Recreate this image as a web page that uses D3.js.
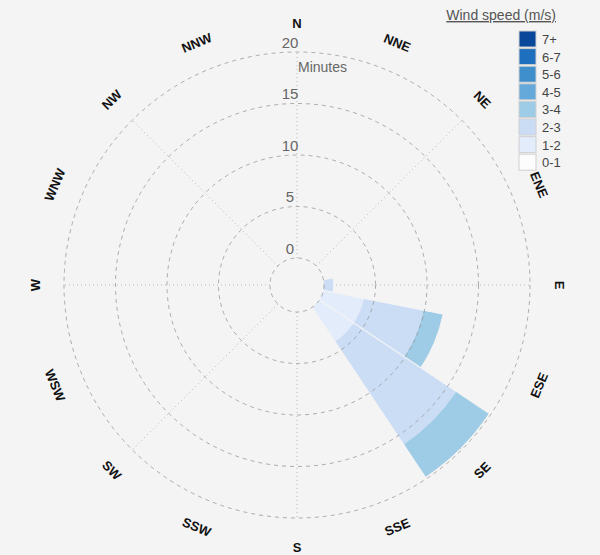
<!DOCTYPE html>
<html>
<head>
<meta charset="utf-8">
<script src="https://cdn.jsdelivr.net/npm/d3@7"></script>
<style>
  body { margin: 0; background: #f4f4f4; }
  svg { display: block; font-family: "Liberation Sans", Arial, sans-serif; }
</style>
</head>
<body>
<svg id="chart" width="600" height="555"></svg>
<script>
//-----------------------------------------------------------------------
// data: minutes of wind per direction, one array per speed bin
var directions = ["N","NNE","NE","ENE","E","ESE","SE","SSE","S","SSW","SW","WSW","W","WNW","NW","NNW"];
var speedBins  = ["0-1","1-2","2-3","3-4","4-5","5-6","6-7","7+"];

var min_0_1 = [0,0,0,0,0,0,0,0,0,0,0,0,0,0,0,0];
var min_1_2 = [0,0,0,0,0,4,4,0,0,0,0,0,0,0,0,0];
var min_2_3 = [0,0,0,0,0.9,5.9,12,0,0,0,0,0,0,0,0,0];
var min_3_4 = [0,0,0,0,0,1.9,3.8,0,0,0,0,0,0,0,0,0];
var min_4_5 = [0,0,0,0,0,0,0,0,0,0,0,0,0,0,0,0];
var min_5_6 = [0,0,0,0,0,0,0,0,0,0,0,0,0,0,0,0];
var min_6_7 = [0,0,0,0,0,0,0,0,0,0,0,0,0,0,0,0];
var min_7p  = [0,0,0,0,0,0,0,0,0,0,0,0,0,0,0,0];

var ringTicks = [0,5,10,15,20];
//-----------------------------------------------------------------------
var binSeries = [min_0_1,min_1_2,min_2_3,min_3_4,min_4_5,min_5_6,min_6_7,min_7p];
var binColors = ["#fcfcfc","#e2ecfb","#cbdcf5","#9ecbe5","#64a9da","#3e8fcb","#1f6fbf","#08479a"];

var cx = 297, cy = 285;
var svg = d3.select("#chart");
var g = svg.append("g").attr("transform","translate("+cx+","+cy+")");

var r = d3.scaleLinear().domain([0,20]).range([27,233]);
var step = 2*Math.PI/directions.length;
var ang = d3.scaleBand().domain(directions).range([-step/2, 2*Math.PI-step/2]);
var color = d3.scaleOrdinal().domain(speedBins).range(binColors);

// rows for the stack
var rows = directions.map(function(d,i){
	var o = {dir:d};
	speedBins.forEach(function(b,j){ o[b] = binSeries[j][i]; });
	return o;
});
var stacked = d3.stack().keys(speedBins)(rows);

// radial dotted spokes every 45 degrees
var spokes = directions.filter(function(d,i){ return i%2==0; });
g.selectAll("line.spoke")
	.data(spokes)
	.enter()
		.append("line")
		.attr("class","spoke")
		.attr("x1",function(d){ return r(0)*Math.sin(ang(d)+step/2); })
		.attr("y1",function(d){ return -r(0)*Math.cos(ang(d)+step/2); })
		.attr("x2",function(d){ return r(20)*Math.sin(ang(d)+step/2); })
		.attr("y2",function(d){ return -r(20)*Math.cos(ang(d)+step/2); })
		.attr("stroke","#b8b8b8")
		.attr("stroke-dasharray","1,3");

// bars
var arc = d3.arc()
	.innerRadius(function(d){ return r(d[0]); })
	.outerRadius(function(d){ return r(d[1]); })
	.startAngle(function(d){ return ang(d.data.dir); })
	.endAngle(function(d){ return ang(d.data.dir)+ang.bandwidth(); })
	.padAngle(0.012)
	.padRadius(100);

g.selectAll("g.layer")
	.data(stacked)
	.enter()
		.append("g")
		.attr("class","layer")
		.attr("fill",function(d){ return color(d.key); })
		.selectAll("path")
		.data(function(d){ return d.filter(function(s){ return s[1]-s[0]>0; }); })
		.enter()
			.append("path")
			.attr("d",arc);

// dashed rings
g.selectAll("circle.ring")
	.data(ringTicks)
	.enter()
		.append("circle")
		.attr("class","ring")
		.attr("r",function(d){ return r(d); })
		.attr("fill","none")
		.attr("stroke","#9a9a9a")
		.attr("stroke-opacity",0.8)
		.attr("stroke-dasharray","4,4");

// ring labels
g.selectAll("text.tick")
	.data(ringTicks)
	.enter()
		.append("text")
		.attr("class","tick")
		.attr("x",-7)
		.attr("y",function(d){ return -r(d)-10; })
		.attr("text-anchor","middle")
		.attr("dominant-baseline","central")
		.attr("fill","#666")
		.style("font-size","15px")
		.text(function(d){ return d; });

g.append("text")
	.attr("x",1)
	.attr("y",-218)
	.attr("dominant-baseline","central")
	.attr("fill","#666")
	.style("font-size","14px")
	.text("Minutes");

// compass labels
g.selectAll("text.dir")
	.data(directions)
	.enter()
		.append("text")
		.attr("class","dir")
		.attr("transform",function(d){
			var a = ang(d)+step/2, deg = a*180/Math.PI;
			var rot = (deg>90 && deg<270) ? deg-180 : deg;
			return "translate("+(262*Math.sin(a))+","+(-262*Math.cos(a))+") rotate("+rot+")";
		})
		.attr("text-anchor","middle")
		.attr("dominant-baseline","central")
		.attr("fill","#111")
		.style("font-size","13px")
		.style("font-weight","bold")
		.text(function(d){ return d; });

// legend
var leg = svg.append("g").attr("transform","translate(519,31)");
leg.append("text")
	.attr("x",37)
	.attr("y",-11)
	.attr("text-anchor","end")
	.attr("fill","#555")
	.style("font-size","14px")
	.style("text-decoration","underline")
	.text("Wind speed (m/s)");

var items = leg.selectAll("g.item")
	.data(speedBins.slice().reverse())
	.enter()
		.append("g")
		.attr("class","item")
		.attr("transform",function(d,i){ return "translate(0,"+(i*17.6)+")"; });
items.append("rect")
	.attr("width",17)
	.attr("height",16)
	.attr("fill",function(d){ return color(d); })
	.attr("stroke","#d0d0d0");
items.append("text")
	.attr("x",23)
	.attr("y",8.5)
	.attr("dominant-baseline","central")
	.attr("fill","#444")
	.style("font-size","13px")
	.text(function(d){ return d; });
//-----------------------------------------------------------------------
</script>
</body>
</html>
